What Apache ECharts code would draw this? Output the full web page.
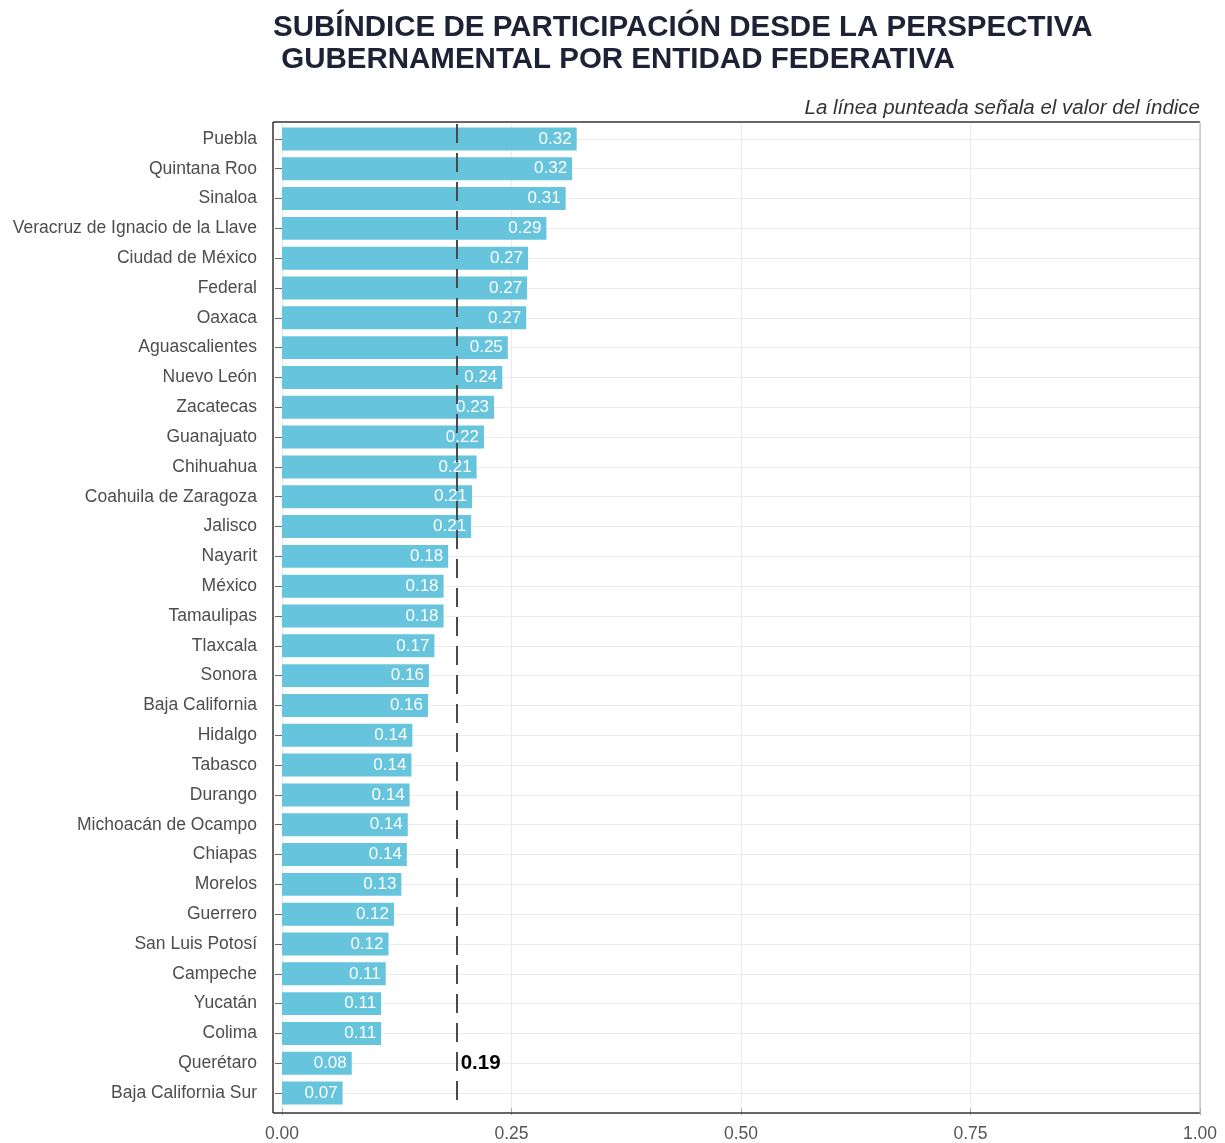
<!DOCTYPE html>
<html><head><meta charset="utf-8">
<script src="https://cdn.jsdelivr.net/npm/echarts@6/dist/echarts.min.js"></script>
<style>html,body{margin:0;padding:0;background:#fff}#c{width:1225px;height:1143px}</style>
</head><body><div id="c"></div>
<script>
// ---- data ----
const categories = [
  'Puebla','Quintana Roo','Sinaloa','Veracruz de Ignacio de la Llave','Ciudad de México',
  'Federal','Oaxaca','Aguascalientes','Nuevo León','Zacatecas','Guanajuato','Chihuahua',
  'Coahuila de Zaragoza','Jalisco','Nayarit','México','Tamaulipas','Tlaxcala','Sonora',
  'Baja California','Hidalgo','Tabasco','Durango','Michoacán de Ocampo','Chiapas','Morelos',
  'Guerrero','San Luis Potosí','Campeche','Yucatán','Colima','Querétaro','Baja California Sur'
];
const values = [
  0.321, 0.316, 0.309, 0.288, 0.268,
  0.267, 0.266, 0.246, 0.240, 0.231, 0.220, 0.212,
  0.207, 0.206, 0.181, 0.176, 0.176, 0.166, 0.160,
  0.159, 0.142, 0.141, 0.139, 0.137, 0.136, 0.130,
  0.122, 0.116, 0.113, 0.108, 0.108, 0.076, 0.066
];
const indexValue = 0.187;
const indexLabel = '0.19';
const indexLabelCategory = 'Querétaro';
const xMin = 0, xMax = 1, xStep = 0.25;
const titleText = 'SUBÍNDICE DE PARTICIPACIÓN DESDE LA PERSPECTIVA\n GUBERNAMENTAL POR ENTIDAD FEDERATIVA';
const subtitleText = 'La línea punteada señala el valor del índice';

// ---- layout / style ----
const FONT = "'Liberation Sans', Arial, sans-serif";
const G = {left: 282, right: 25, top: 124, bottom: 31};
const frame = {x0: 273, x1: 1200, y0: 122, y1: 1113};

const chart = echarts.init(document.getElementById('c'), null, {renderer: 'canvas'});
chart.setOption({
  backgroundColor: '#ffffff',
  animation: false,
  textStyle: {fontFamily: FONT},
  title: [
    {text: titleText, left: 273, top: 12, padding: 0,
     textStyle: {fontFamily: FONT, fontSize: 29.5, fontWeight: 'bold', color: '#1e2235', lineHeight: 32}},
    {text: subtitleText, right: 25, top: 98, padding: 0,
     textStyle: {fontFamily: FONT, fontSize: 20.5, fontStyle: 'italic', fontWeight: 'normal', color: '#333333'}}
  ],
  grid: {left: G.left, right: G.right, top: G.top, bottom: G.bottom, containLabel: false},
  xAxis: {
    type: 'value', min: xMin, max: xMax, interval: xStep,
    axisLine: {show: false},
    axisTick: {show: true, length: 7, lineStyle: {color: '#aaaaaa', width: 1}},
    axisLabel: {fontFamily: FONT, fontSize: 17.5, color: '#555555', margin: 17,
      formatter: v => v.toFixed(2)},
    splitLine: {show: true, lineStyle: {color: '#ebebeb', width: 1}}
  },
  yAxis: {
    type: 'category', data: categories, inverse: true, offset: 9,
    axisLine: {show: false},
    axisTick: {show: true, alignWithLabel: true, length: 7, lineStyle: {color: '#666666', width: 1}},
    axisLabel: {fontFamily: FONT, fontSize: 17.5, color: '#4d4d4d', margin: 16},
    splitLine: {show: true, alignWithLabel: true, lineStyle: {color: '#ebebeb', width: 1}}
  },
  series: [{
    type: 'bar', data: values, barWidth: '77%',
    itemStyle: {color: '#66c4dc'},
    label: {show: true, position: 'insideRight', distance: 5, color: '#ffffff',
      fontFamily: FONT, fontSize: 17, formatter: p => p.value.toFixed(2)},
    markLine: {
      silent: true, symbol: ['none', 'none'],
      lineStyle: {color: '#4a4a4a', width: 2, type: [19, 10]},
      label: {show: false},
      data: [{xAxis: indexValue}]
    },
    markPoint: {
      symbol: 'circle', symbolSize: 0,
      label: {show: true, position: 'right', distance: 7, formatter: indexLabel,
        color: '#000000', fontFamily: FONT, fontSize: 20.5, fontWeight: 'bold'},
      data: [{coord: [indexValue, indexLabelCategory]}]
    }
  }],
  graphic: [
    {type: 'line', z: 100, shape: {x1: frame.x0, y1: frame.y0, x2: frame.x1, y2: frame.y0}, style: {stroke: '#333333', lineWidth: 1.5}},
    {type: 'line', z: 100, shape: {x1: frame.x0, y1: frame.y0, x2: frame.x0, y2: frame.y1}, style: {stroke: '#333333', lineWidth: 1.5}},
    {type: 'line', z: 100, shape: {x1: frame.x0, y1: frame.y1, x2: frame.x1, y2: frame.y1}, style: {stroke: '#333333', lineWidth: 1.5}},
    {type: 'line', z: 100, shape: {x1: frame.x1, y1: frame.y0, x2: frame.x1, y2: frame.y1}, style: {stroke: '#b0b0b0', lineWidth: 1}}
  ]
});
</script></body></html>
